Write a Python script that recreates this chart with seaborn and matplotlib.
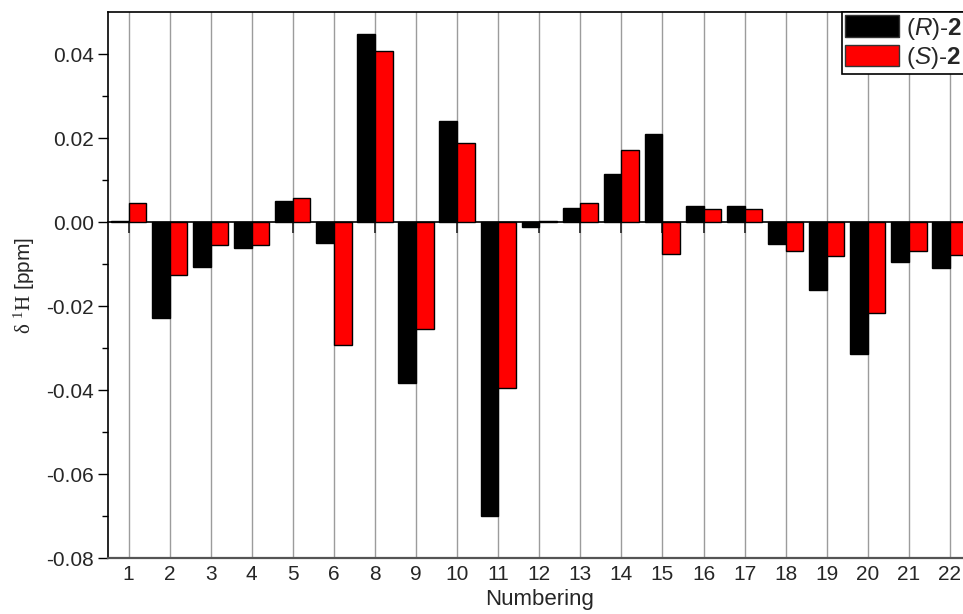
import matplotlib
matplotlib.use("Agg")
import matplotlib.pyplot as plt
from matplotlib.ticker import MultipleLocator, FixedLocator, FormatStrFormatter
import seaborn as sns
import pandas as pd

# Proton chemical shift differences per numbered position
positions = ["1", "2", "3", "4", "5", "6", "8", "9", "10", "11", "12",
             "13", "14", "15", "16", "17", "18", "19", "20", "21", "22"]
r_values = [0.0003, -0.0229, -0.0107, -0.0062, 0.0050, -0.0050, 0.0448,
            -0.0383, 0.0240, -0.0700, -0.0012, 0.0033, 0.0114, 0.0210,
            0.0038, 0.0038, -0.0052, -0.0162, -0.0314, -0.0095, -0.0110]
s_values = [0.0045, -0.0126, -0.0055, -0.0055, 0.0057, -0.0293, 0.0407,
            -0.0255, 0.0188, -0.0395, 0.0002, 0.0045, 0.0171, -0.0076,
            0.0031, 0.0031, -0.0069, -0.0081, -0.0217, -0.0069, -0.0079]
series_names = ["R", "S"]
series_labels = [r"($\mathit{R}$)-$\mathbf{2}$", r"($\mathit{S}$)-$\mathbf{2}$"]
series_colors = ["#000000", "#ff0000"]
minor_y = [-0.07, -0.05, -0.03, -0.01, 0.01, 0.03]

df = pd.DataFrame({
    "Numbering": positions * 2,
    "shift": r_values + s_values,
    "isomer": [series_names[0]] * len(positions) + [series_names[1]] * len(positions),
})

sns.set_theme(style="white")
plt.rcParams["font.family"] = ["Liberation Sans", "DejaVu Sans"]
plt.rcParams["mathtext.fontset"] = "custom"
plt.rcParams["mathtext.rm"] = "Liberation Serif"
plt.rcParams["mathtext.it"] = "Liberation Sans:italic"
plt.rcParams["mathtext.bf"] = "Liberation Sans:bold"

fig = plt.figure(figsize=(9.63, 6.14), dpi=100)
ax = fig.add_axes([108 / 963, 1 - 558 / 614, 862.5 / 963, (558 - 12) / 614])

# vertical grid at each position, behind the bars
for i in range(len(positions)):
    ax.axvline(i, color="#9c9c9c", lw=1.0, zorder=0)

sns.barplot(data=df, x="Numbering", y="shift", hue="isomer",
            order=positions, hue_order=series_names,
            palette=series_colors, width=0.86, dodge=True,
            edgecolor="black", linewidth=1.0, saturation=1,
            legend=False, ax=ax, zorder=2)

ax.set_xlim(-0.5, len(positions) - 0.5)
ax.set_ylim(-0.08, 0.05)
ax.yaxis.set_major_locator(MultipleLocator(0.02))
ax.yaxis.set_minor_locator(FixedLocator(minor_y))
ax.yaxis.set_major_formatter(FormatStrFormatter("%.2f"))
ax.tick_params(axis="y", which="major", direction="out", length=7, width=1,
               color="black", labelsize=15, left=True, pad=3)
ax.tick_params(axis="y", which="minor", direction="out", length=4, width=1,
               color="black", left=True)
ax.tick_params(axis="x", length=0, labelsize=15, pad=5)

for side in ["left", "top"]:
    ax.spines[side].set_color("black")
    ax.spines[side].set_linewidth(1.2)
ax.spines["bottom"].set_color("#555555")
ax.spines["bottom"].set_linewidth(1.6)
ax.spines["right"].set_visible(False)

# zero line with short downward ticks
zero_frac = (0 - ax.get_ylim()[0]) / (ax.get_ylim()[1] - ax.get_ylim()[0])
zero_axis = ax.secondary_xaxis(zero_frac)
zero_axis.set_xticks(range(len(positions)))
zero_axis.set_xticklabels([])
zero_axis.tick_params(direction="in", length=8, width=1.2, color="#222222")
for sp in zero_axis.spines.values():
    sp.set_color("black")
    sp.set_linewidth(1.2)

ax.set_xlabel("Numbering", fontsize=16, labelpad=4)
ax.set_ylabel(r"$\mathrm{δ\ ^1H}$ [ppm]", fontsize=15, labelpad=7)

handles = [matplotlib.patches.Patch(facecolor=c, edgecolor="#333333", lw=1)
           for c in series_colors]
leg = ax.legend(handles, series_labels, loc="upper right",
                bbox_to_anchor=(1.0, 1.008), fontsize=17.5, frameon=True,
                fancybox=False, edgecolor="black", framealpha=1,
                handlelength=2.25, handleheight=1.0, handletextpad=0.3,
                borderpad=0.12, labelspacing=0.12, borderaxespad=0.2)
leg.get_frame().set_linewidth(1.2)

fig.savefig("out.png", dpi=100)
